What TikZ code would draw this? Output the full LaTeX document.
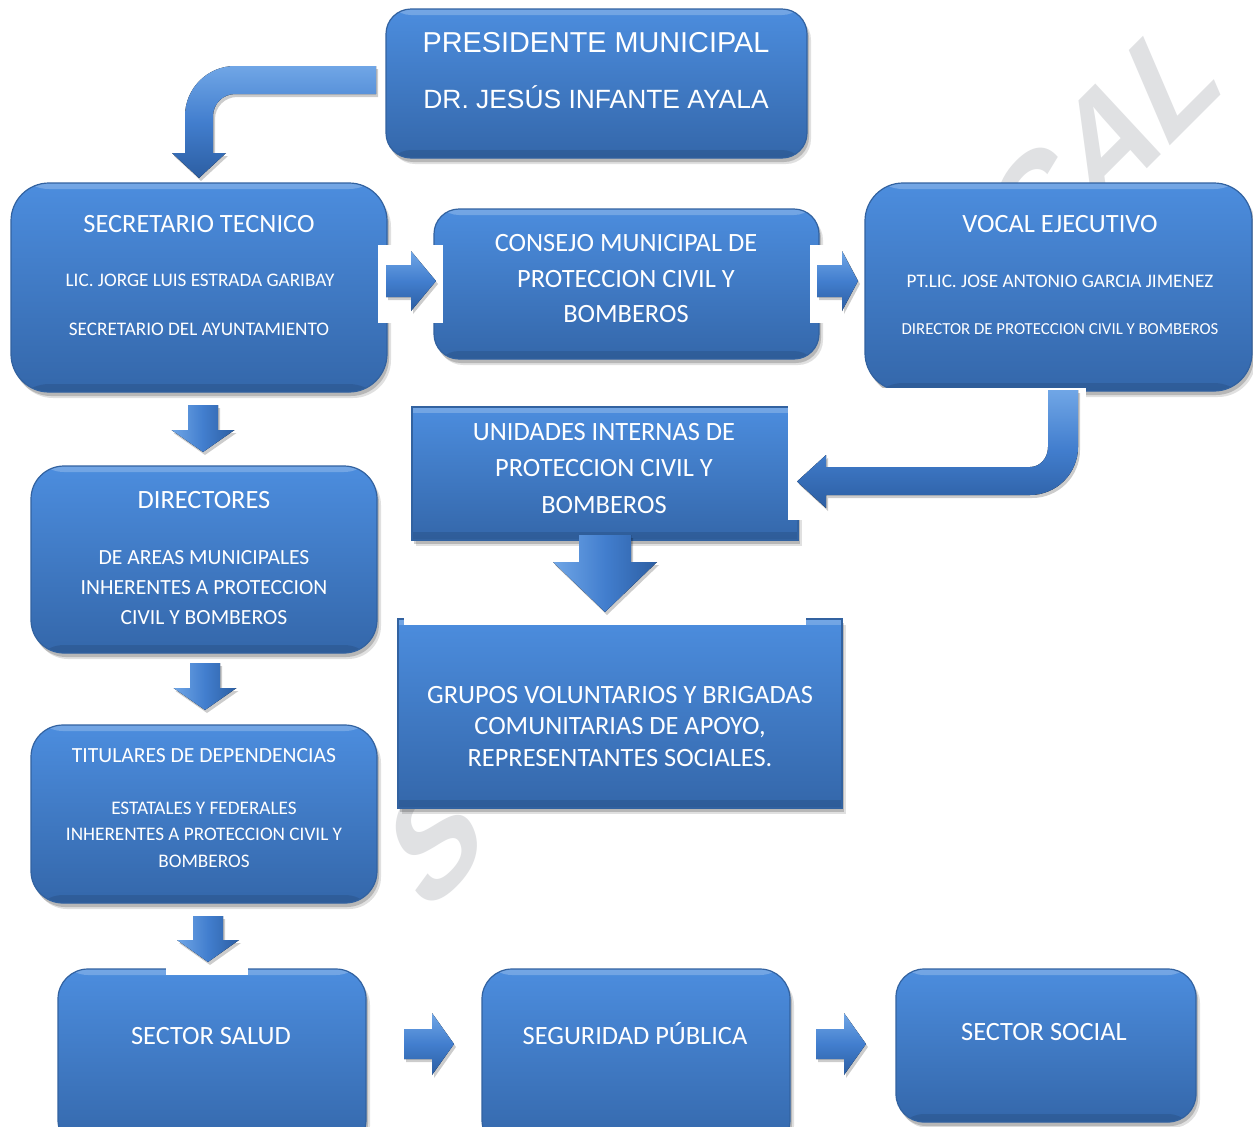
\documentclass[tikz,border=0pt]{standalone}
\usepackage{fontspec}
\setmainfont{Carlito}
\newfontfamily\arialf{Liberation Sans}
\newfontfamily\wmfont{Liberation Sans}
\usetikzlibrary{shadows}
\definecolor{boxtop}{RGB}{76,141,222}
\definecolor{boxbot}{RGB}{52,103,170}
\definecolor{boxedge}{RGB}{50,98,160}
\definecolor{arrlight}{RGB}{112,166,230}
\definecolor{arrmid}{RGB}{66,126,206}
\definecolor{arrdark}{RGB}{44,94,162}
\definecolor{wmark}{RGB}{224,225,227}
\newcommand\blkdown[6]{\fill[arrV] (#1-#5,#2) -- (#1+#5,#2) -- (#1+#5,#3) -- (#1+#6,#3) -- (#1,#4) -- (#1-#6,#3) -- (#1-#5,#3) -- cycle;}
\newcommand\blkright[6]{\fill[arrH] (#2,#1-#5) -- (#3,#1-#5) -- (#3,#1-#6) -- (#4,#1) -- (#3,#1+#6) -- (#3,#1+#5) -- (#2,#1+#5) -- cycle;}
\tikzset{
  boxgloss/.style={path picture={
    \fill[white,opacity=.22] (path picture bounding box.north west) rectangle ([yshift=-3pt]path picture bounding box.north east);
    \fill[black,opacity=.10] ([yshift=4pt]path picture bounding box.south west) rectangle (path picture bounding box.south east);}},
  bshadow/.style={drop shadow={shadow xshift=2pt,shadow yshift=-3pt,fill=black,opacity=.12},
                  drop shadow={shadow xshift=1pt,shadow yshift=-2pt,fill=black,opacity=.18}},
  rbox/.style={draw=boxedge, line width=0.6pt, top color=boxtop, bottom color=boxbot, bshadow, boxgloss},
  sbox/.style={draw=boxedge, line width=0.6pt, top color=boxtop, bottom color=boxbot, bshadow, boxgloss},
  arrV/.style={left color=arrlight, right color=arrdark, middle color=arrmid, drop shadow={shadow xshift=1pt,shadow yshift=-1.5pt,fill=black,opacity=.2}},
  arrH/.style={top color=arrlight, bottom color=arrdark, middle color=arrmid, drop shadow={shadow xshift=1pt,shadow yshift=-1.5pt,fill=black,opacity=.2}},
  txt/.style={text=white, inner sep=0pt, outer sep=0pt, text depth=0pt},
  tP1/.style={txt, font=\arialf\fontsize{14.4pt}{16pt}\selectfont, text height=10.3pt},
  tP2/.style={txt, font=\arialf\fontsize{13.2pt}{15pt}\selectfont, text height=9.45pt},
  tA/.style={txt, font=\fontsize{13.2pt}{15pt}\selectfont, text height=8.5pt},
  tB/.style={txt, font=\fontsize{10.8pt}{13pt}\selectfont, text height=6.96pt},
  tC/.style={txt, font=\fontsize{9.6pt}{12pt}\selectfont, text height=6.18pt},
  tD/.style={txt, font=\fontsize{8.4pt}{10pt}\selectfont, text height=5.41pt},
  wm/.style={text=wmark, inner sep=0pt, font=\wmfont\bfseries\fontsize{70pt}{70pt}\selectfont, rotate=45, xslant=0.4, anchor=base west}
}
\begin{document}
\begin{tikzpicture}[x=0.5pt,y=-0.5pt]
\useasboundingbox (0,0) rectangle (1253,1126);
\clip (0,0) rectangle (1253,1126);
\fill[white] (0,0) rectangle (1253,1126);

% watermark fragments
\node[wm] (wmC) at (1020,296) {C};
\node[wm] (wmA) at (1092,224) {A};
\node[wm] (wmL) at (1163,153) {L};
\node[wm, anchor=center] (wmS) at (436,838) {S};

% boxes
\node[rbox, rounded corners=12.5pt, minimum width=210.5pt, minimum height=74.5pt] (pres) at (596.5,83.5) {};
\node[rbox, rounded corners=19pt, minimum width=188pt, minimum height=104.5pt] (sec) at (199,287.5) {};
\node[rbox, rounded corners=12.5pt, minimum width=192.5pt, minimum height=75pt] (con) at (626.5,284) {};
\node[rbox, rounded corners=19pt, minimum width=193.5pt, minimum height=104pt] (voc) at (1058.5,287) {};
\node[sbox, minimum width=193pt, minimum height=66.5pt] (uni) at (605,473.5) {};
\node[sbox, minimum width=222pt, minimum height=94.5pt] (gru) at (620,713.5) {};
\node[rbox, rounded corners=16.5pt, minimum width=173pt, minimum height=93.5pt] (dir) at (204,559.5) {};
\node[rbox, rounded corners=16pt, minimum width=173pt, minimum height=89pt] (tit) at (204,814) {};
\node[rbox, rounded corners=15pt, minimum width=154pt, minimum height=90.5pt] (sal) at (212,1059.5) {};
\node[rbox, rounded corners=15pt, minimum width=154pt, minimum height=90.5pt] (seg) at (636,1059.5) {};
\node[rbox, rounded corners=14pt, minimum width=150pt, minimum height=76.5pt] (soc) at (1046,1045.5) {};

% white masks
\fill[white] (378,245) rectangle (443,323);
\fill[white] (810,245) rectangle (864,323);
\fill[white] (788,400) rectangle (803,520);
\fill[white] (404,615) rectangle (806,625);
\fill[white] (166,955) rectangle (248,975);
\fill[white] (880,388) rectangle (1086,404);

% straight block arrows
\blkdown{203}{405}{430}{452}{15}{31.5}
\blkdown{205}{663}{688}{710}{15}{31.5}
\blkdown{208}{916}{940}{962}{15}{31}
\blkdown{605}{535}{562}{612}{26}{52}
\blkright{281}{386}{411}{436}{16}{30}
\blkright{281}{817}{842}{858}{16}{30}
\blkright{1044}{404}{432}{454}{15}{31}
\blkright{1044}{816}{844}{866}{15}{31}

% curved arrow: presidente -> secretario
\fill[arrH] (376,66) -- (235,66) .. controls (207.4,66) and (185,88.4) .. (185,116) -- (185,153) -- (172,153) -- (199,178) -- (226,153) -- (213,153) -- (213,116) .. controls (213,103.9) and (222.9,94) .. (235,94) -- (376,94) -- cycle;
% curved arrow: vocal -> unidades
\fill[arrH] (1048,390) -- (1078,390) -- (1078,447) .. controls (1078,473.5) and (1056.5,495) .. (1030,495) -- (826,495) -- (826,508) -- (797,481.5) -- (826,455) -- (826,467) -- (1030,467) .. controls (1040,467) and (1048,458) .. (1048,447) -- cycle;

% texts
\node[tP1] (pres1) at (596,42) {PRESIDENTE MUNICIPAL};
\node[tP2] (pres2) at (596,99) {DR. JESÚS INFANTE AYALA};

\node[tA] (sec1) at (199,224) {SECRETARIO TECNICO};
\node[tC] (sec2) at (200,280) {LIC. JORGE LUIS ESTRADA GARIBAY};
\node[tC] (sec3) at (199,329) {SECRETARIO DEL AYUNTAMIENTO};

\node[tA] (con1) at (626,242.5) {CONSEJO MUNICIPAL DE};
\node[tA] (con2) at (626,278.5) {PROTECCION CIVIL Y};
\node[tA] (con3) at (626,314) {BOMBEROS};

\node[tA] (voc1) at (1060,224) {VOCAL EJECUTIVO};
\node[tC] (voc2) at (1060,281) {PT.LIC. JOSE ANTONIO GARCIA JIMENEZ};
\node[tD] (voc3) at (1060,329.5) {DIRECTOR DE PROTECCION CIVIL Y BOMBEROS};

\node[tA] (uni1) at (604,432) {UNIDADES INTERNAS DE};
\node[tA] (uni2) at (604,468) {PROTECCION CIVIL Y};
\node[tA] (uni3) at (604,505) {BOMBEROS};

\node[tA] (gru1) at (620,695) {GRUPOS VOLUNTARIOS Y BRIGADAS};
\node[tA] (gru2) at (620,726) {COMUNITARIAS DE APOYO,};
\node[tA] (gru3) at (620,757.5) {REPRESENTANTES SOCIALES.};

\node[tA] (dir1) at (204,500) {DIRECTORES};
\node[tB] (dir2) at (204,558) {DE AREAS MUNICIPALES};
\node[tB] (dir3) at (204,587.5) {INHERENTES A PROTECCION};
\node[tB] (dir4) at (204,617.5) {CIVIL Y BOMBEROS};

\node[tB] (tit1) at (204,756) {TITULARES DE DEPENDENCIAS};
\node[tC] (tit2) at (204,808) {ESTATALES Y FEDERALES};
\node[tC] (tit3) at (204,834) {INHERENTES A PROTECCION CIVIL Y};
\node[tC] (tit4) at (204,861) {BOMBEROS};

\node[tA] (sal1) at (211,1035.5) {SECTOR SALUD};
\node[tA] (seg1) at (635,1035.5) {SEGURIDAD PÚBLICA};
\node[tA] (soc1) at (1044,1031.5) {SECTOR SOCIAL};
\end{tikzpicture}
\end{document}
